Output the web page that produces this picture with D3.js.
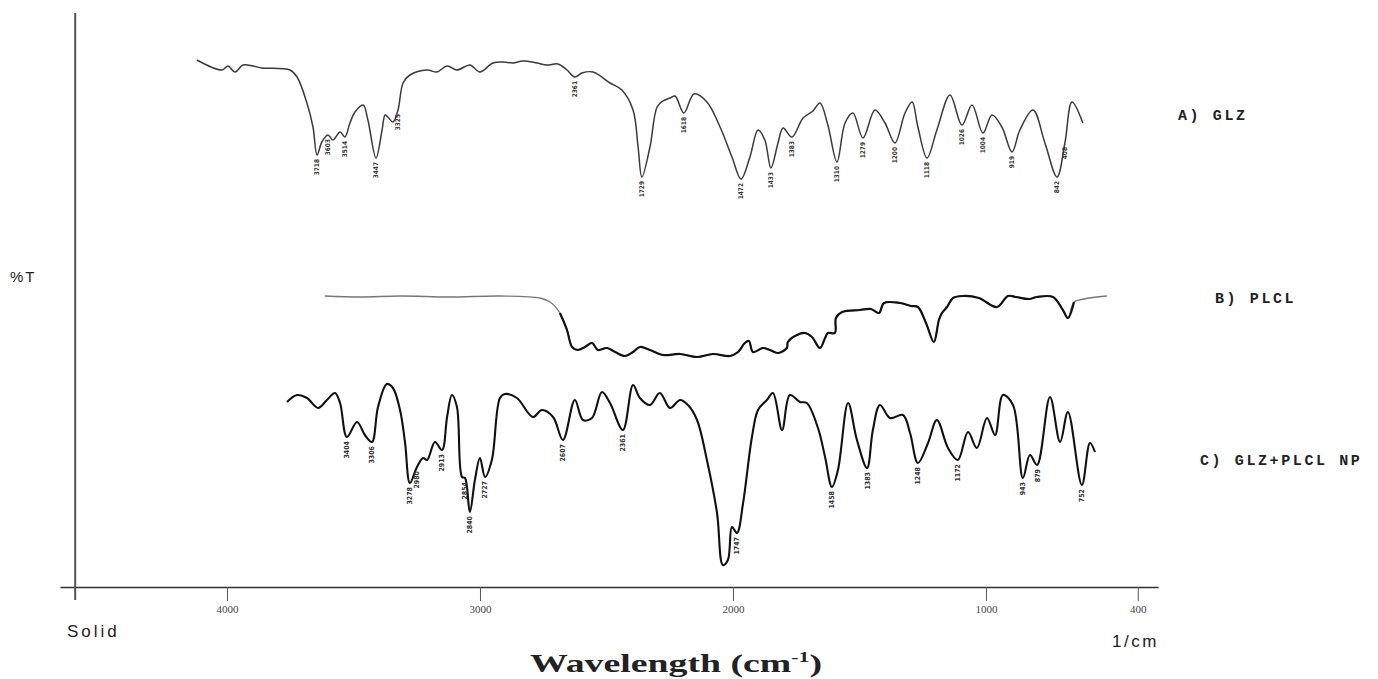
<!DOCTYPE html>
<html>
<head>
<meta charset="utf-8">
<script src="https://cdn.jsdelivr.net/npm/d3@7"></script>
<style>
  body { margin: 0; background: #fff; }
  svg { display: block; }
</style>
</head>
<body>
<script>
// wavenumber (cm-1), %T (traces stacked on one offset scale)
const glz = [
  [4119, 105.4], [4020, 103.4], [3996, 104.2], [3968, 103.0], [3937, 104.4], [3897, 104.2],
  [3862, 103.8], [3751, 103.4], [3723, 102.0], [3684, 96.8], [3660, 92.0], [3644, 86.4],
  [3625, 89.0], [3601, 90.4], [3581, 89.4], [3553, 91.0], [3534, 90.0], [3514, 92.8],
  [3494, 95.0], [3462, 96.4], [3443, 93.4], [3411, 85.8], [3387, 91.4], [3375, 94.4],
  [3364, 94.0], [3344, 93.0], [3324, 95.4], [3304, 100.8], [3277, 102.4], [3209, 103.4],
  [3170, 103.0], [3130, 104.2], [3091, 103.4], [3040, 104.4], [3000, 103.0], [2949, 104.8],
  [2909, 105.0], [2870, 104.8], [2830, 105.2], [2775, 104.8], [2735, 104.4], [2692, 104.6],
  [2656, 103.4], [2625, 102.0], [2597, 102.8], [2553, 103.0], [2486, 100.8], [2439, 99.4],
  [2395, 95.4], [2375, 88.0], [2360, 82.0], [2328, 88.0], [2300, 96.0], [2277, 97.2],
  [2249, 97.8], [2229, 98.2], [2194, 94.8], [2154, 98.6], [2103, 97.0], [2051, 92.0],
  [2004, 86.0], [1968, 81.6], [1933, 86.0], [1901, 91.4], [1874, 89.4], [1850, 83.8],
  [1822, 88.8], [1802, 91.8], [1767, 90.0], [1723, 93.8], [1684, 95.2], [1656, 96.8],
  [1625, 92.4], [1589, 85.0], [1557, 92.8], [1526, 94.8], [1486, 89.8], [1439, 95.4],
  [1399, 92.8], [1360, 88.8], [1320, 94.8], [1292, 97.0], [1269, 92.0], [1233, 85.8],
  [1194, 91.4], [1142, 98.4], [1095, 92.4], [1055, 96.4], [1012, 90.8], [976, 94.4],
  [937, 92.0], [897, 87.0], [866, 91.4], [814, 95.4], [767, 88.8], [719, 82.0],
  [688, 88.8], [660, 97.0], [617, 92.8]
];

const plcl = [
  [3613, 58.2], [3474, 58.0], [3316, 58.2], [3119, 58.0], [2921, 58.2], [2763, 57.8],
  [2723, 57.0], [2684, 54.8], [2656, 51.4], [2636, 48.0], [2613, 47.4], [2585, 48.0],
  [2557, 48.8], [2534, 47.4], [2498, 47.8], [2466, 47.0], [2427, 46.2], [2395, 47.0],
  [2368, 48.0], [2328, 47.4], [2277, 46.4], [2209, 46.6], [2142, 46.0], [2079, 46.6],
  [2012, 46.2], [1980, 47.0], [1953, 48.8], [1937, 49.2], [1921, 47.0], [1881, 47.8],
  [1854, 47.4], [1822, 46.8], [1787, 47.8], [1783, 49.0], [1747, 50.4], [1715, 50.8],
  [1688, 50.0], [1656, 47.8], [1636, 49.8], [1625, 50.8], [1597, 50.8], [1593, 53.8],
  [1569, 55.0], [1498, 55.4], [1455, 55.6], [1423, 54.8], [1403, 56.8], [1340, 56.8],
  [1296, 56.2], [1269, 56.0], [1237, 52.8], [1206, 49.0], [1186, 53.4], [1174, 54.8],
  [1154, 56.0], [1130, 57.8], [1091, 58.2], [1028, 57.8], [957, 56.0], [913, 58.2],
  [881, 58.0], [830, 57.6], [798, 58.0], [735, 58.0], [696, 55.4], [676, 53.8],
  [652, 57.0], [613, 57.6], [522, 58.2]
];

const glzNp = [
  [3763, 37.0], [3723, 38.4], [3684, 37.8], [3640, 35.8], [3605, 37.4], [3573, 38.8],
  [3553, 36.8], [3526, 30.0], [3486, 33.0], [3455, 30.4], [3427, 29.0], [3403, 36.0],
  [3368, 40.6], [3344, 39.8], [3316, 35.4], [3296, 28.8], [3277, 20.8], [3249, 24.0],
  [3225, 25.8], [3209, 25.4], [3178, 29.0], [3150, 27.4], [3130, 34.0], [3111, 38.4],
  [3091, 36.0], [3071, 22.0], [3059, 21.8], [3040, 15.0], [3020, 21.4], [3000, 25.8],
  [2980, 22.0], [2953, 25.4], [2921, 37.8], [2901, 38.6], [2854, 37.8], [2791, 34.0],
  [2755, 35.4], [2711, 34.0], [2672, 29.4], [2625, 37.4], [2593, 33.4], [2557, 33.8],
  [2518, 39.0], [2486, 36.8], [2435, 31.4], [2395, 40.4], [2368, 37.8], [2328, 36.4],
  [2289, 38.8], [2249, 35.8], [2209, 37.4], [2178, 36.4], [2142, 33.4], [2103, 25.4],
  [2063, 14.8], [2040, 4.4], [2020, 5.4], [2004, 12.0], [1984, 10.8], [1960, 16.8],
  [1925, 30.0], [1901, 35.4], [1866, 37.4], [1842, 38.8], [1806, 31.4], [1775, 38.4],
  [1735, 37.0], [1708, 36.8], [1664, 31.8], [1636, 26.0], [1609, 20.0], [1585, 23.4],
  [1545, 36.8], [1510, 29.4], [1470, 23.8], [1447, 31.4], [1419, 36.4], [1379, 33.8],
  [1328, 34.4], [1300, 30.8], [1269, 24.8], [1229, 28.8], [1194, 33.4], [1150, 27.8],
  [1111, 25.4], [1071, 31.0], [1036, 27.8], [996, 33.8], [964, 30.4], [933, 38.4],
  [893, 36.4], [854, 21.8], [826, 26.4], [798, 24.4], [747, 38.0], [707, 29.0],
  [676, 35.0], [621, 20.4], [589, 28.8], [569, 27.0]
];

// peak marks printed under the traces
const glzPeaks = [
  [3644, '3718'], [3601, '3603'], [3534, '3514'], [3411, '3447'], [3324, '3325'],
  [2625, '2361'], [2360, '1729'], [2194, '1618'], [1968, '1472'], [1850, '1433'],
  [1767, '1383'], [1589, '1310'], [1486, '1279'], [1360, '1200'], [1233, '1118'],
  [1095, '1026'], [1012, '1004'], [897, '919'], [719, '842'], [688, '408']
];
const npPeaks = [
  [3526, '3404'], [3427, '3306'], [3277, '3278'], [3249, '2980'], [3150, '2913'],
  [3059, '2854'], [3040, '2840'], [2980, '2727'], [2672, '2607'], [2435, '2361'],
  [1984, '1747'], [1609, '1458'], [1470, '1383'], [1269, '1248'], [1111, '1172'],
  [854, '943'], [798, '879'], [621, '752']
];

const xTicks = [4000, 3000, 2000, 1000, 400];
const traceNames = [['A)', 'GLZ', 93.4], ['B)', 'PLCL', 56.8], ['C)', 'GLZ+PLCL NP', 24.4]];

const w = 1378;
const h = 679;

const svg = d3.select('body')
  .append('svg')
  .attr('width', w)
  .attr('height', h);

// scales
const x = d3.scaleLinear().domain([4660, 320]).range([60, 1158]);
const y = d3.scaleLinear().domain([0, 115]).range([587, 12]);

const line = d3.line()
  .x(d => x(d[0]))
  .y(d => y(d[1]))
  .curve(d3.curveCatmullRom.alpha(0.5));

// axes
const xAxis = svg.append('g')
  .attr('transform', `translate(0,${y(0)})`)
  .call(d3.axisBottom(x)
    .tickValues(xTicks)
    .tickFormat(d3.format('d'))
    .tickSize(14)
    .tickSizeOuter(0)
    .tickPadding(4));

xAxis.select('.domain').attr('stroke', '#333').attr('stroke-width', 1.5);
xAxis.selectAll('.tick line').attr('stroke', '#555');
xAxis.selectAll('.tick text')
  .attr('fill', '#444')
  .style('font-family', '"Liberation Serif", serif')
  .style('font-size', '11px');

svg.append('line')
  .attr('x1', x(4600)).attr('x2', x(4600))
  .attr('y1', y(114.8)).attr('y2', y(-2.6))
  .attr('stroke', '#555')
  .attr('stroke-width', 2);

// traces
svg.append('path')
  .datum(glz)
  .attr('d', line)
  .attr('fill', 'none')
  .attr('stroke', '#3a3a3a')
  .attr('stroke-width', 1.5);

svg.append('path')
  .datum(plcl)
  .attr('d', line)
  .attr('fill', 'none')
  .attr('stroke', '#777')
  .attr('stroke-width', 1.3);

svg.append('path')
  .datum(plcl.filter(d => d[0] < 2700 && d[0] > 640))
  .attr('d', line)
  .attr('fill', 'none')
  .attr('stroke', '#111')
  .attr('stroke-width', 2.2);

svg.append('path')
  .datum(glzNp)
  .attr('d', line)
  .attr('fill', 'none')
  .attr('stroke', '#111')
  .attr('stroke-width', 2.1);

// peak labels, rotated, just below the trace
const peakLabels = (peaks, data, size) => {
  svg.append('g')
    .selectAll('text')
    .data(peaks)
    .enter()
    .append('text')
    .attr('transform', d => {
      const p = data.reduce((a, b) => Math.abs(b[0] - d[0]) < Math.abs(a[0] - d[0]) ? b : a);
      return `translate(${x(d[0])},${y(p[1]) + 4}) rotate(-90)`;
    })
    .attr('text-anchor', 'end')
    .attr('dy', '0.35em')
    .attr('fill', '#333')
    .style('font-family', '"DejaVu Sans Condensed", sans-serif')
    .style('font-size', size)
    .style('font-weight', 'bold')
    .text(d => d[1]);
};
peakLabels(glzPeaks, glz, '6.5px');
peakLabels(npPeaks, glzNp, '7px');

// trace names
const nameX = [1178, 1215, 1200];
svg.append('g')
  .selectAll('text')
  .data(traceNames)
  .enter()
  .append('text')
  .attr('x', (d, i) => nameX[i])
  .attr('y', d => y(d[2]))
  .attr('fill', '#222')
  .style('font-family', '"Liberation Mono", monospace')
  .style('font-size', '15px')
  .style('font-weight', 'bold')
  .style('letter-spacing', '2.6px')
  .style('white-space', 'pre')
  .text(d => `${d[0]} ${d[1]}`);

// axis captions
svg.append('text')
  .attr('x', 10).attr('y', 282)
  .attr('fill', '#222')
  .style('font-family', '"Liberation Sans", Arial, sans-serif')
  .style('font-size', '15px')
  .style('letter-spacing', '2px')
  .text('%T');

svg.append('text')
  .attr('x', 67).attr('y', 637)
  .attr('fill', '#222')
  .style('font-family', '"Liberation Sans", Arial, sans-serif')
  .style('font-size', '17px')
  .style('letter-spacing', '3px')
  .text('Solid');

svg.append('text')
  .attr('x', 1112).attr('y', 647)
  .attr('fill', '#222')
  .style('font-family', '"Liberation Sans", Arial, sans-serif')
  .style('font-size', '17px')
  .style('letter-spacing', '2.5px')
  .text('1/cm');

const title = svg.append('text')
  .attr('x', 530).attr('y', 672)
  .attr('textLength', 292)
  .attr('lengthAdjust', 'spacingAndGlyphs')
  .attr('fill', '#222')
  .style('font-family', '"Liberation Serif", "Times New Roman", serif')
  .style('font-size', '26px')
  .style('font-weight', 'bold');
title.append('tspan').text('Wavelength (cm');
title.append('tspan').attr('dy', -10).style('font-size', '15px').text('-1');
title.append('tspan').attr('dy', 10).text(')');
</script>
</body>
</html>
